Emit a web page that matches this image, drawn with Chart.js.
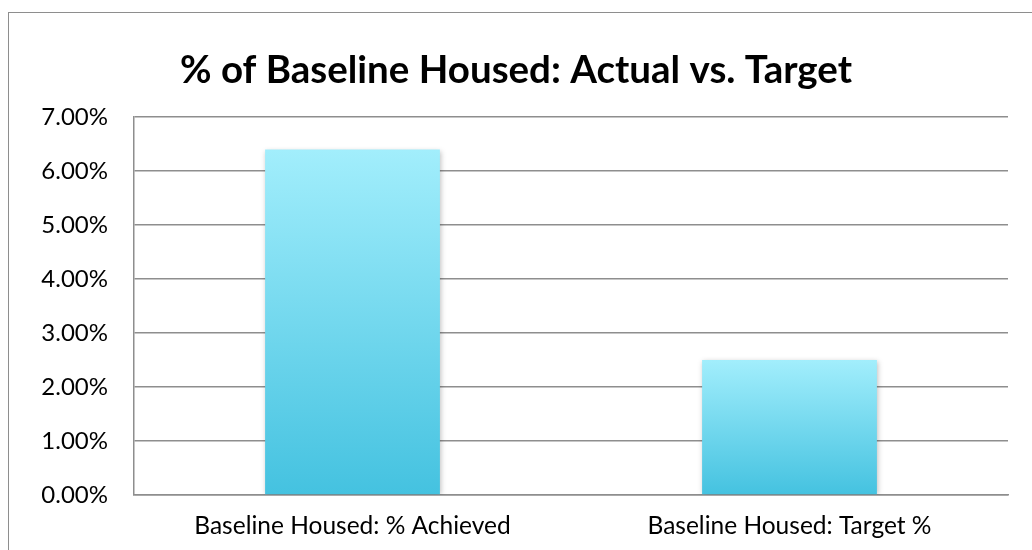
<!DOCTYPE html>
<html>
<head>
<meta charset="utf-8">
<script src="https://cdn.jsdelivr.net/npm/chart.js@4.4.1/dist/chart.umd.min.js"></script>
<style>
  body { margin: 0; background: #fff; }
  #wrap { position: relative; width: 1032px; height: 550px; overflow: hidden; }
  #frame { position: absolute; left: 8px; top: 12px; width: 1100px; height: 600px; border: 1.5px solid #8e8e8e; }
  #box { position: absolute; left: 0; top: 0; width: 1032px; height: 550px; }
</style>
</head>
<body>
<div id="wrap">
  <div id="frame"></div>
  <div id="box"><canvas id="barChart"></canvas></div>
</div>
<script>
const labels = ["Baseline Housed: % Achieved", "Baseline Housed: Target %"];
const values = [6.40, 2.50];
const yTicks = [0, 1, 2, 3, 4, 5, 6, 7];

const fontFamily = "Lato, 'Open Sans', sans-serif";

// ombre légère derrière les barres
const shadowPlugin = {
  id: "shadow",
  beforeDatasetsDraw(chart) {
    const ctx = chart.ctx;
    ctx.save();
    ctx.shadowColor = "rgba(0,0,0,0.25)";
    ctx.shadowBlur = 5;
    ctx.shadowOffsetX = 1;
    ctx.shadowOffsetY = 1;
  },
  afterDatasetsDraw(chart) {
    chart.ctx.restore();
  },
};

const barChart = document.querySelector("#barChart");
const myChart = new Chart(barChart, {
  type: "bar",
  data: {
    labels: labels,
    datasets: [
      {
        data: values,
        backgroundColor: (c) => {
          const area = c.chart.chartArea;
          if (!area) return "#7fdcf0";
          const y0 = c.chart.scales.y.getPixelForValue(0);
          const y1 = c.chart.scales.y.getPixelForValue(c.raw);
          const g = c.chart.ctx.createLinearGradient(0, y1, 0, y0);
          g.addColorStop(0, "#a2eefc");
          g.addColorStop(1, "#44c2e0");
          return g;
        },
        barPercentage: 0.4,
        categoryPercentage: 1,
      },
    ],
  },
  options: {
    responsive: true,
    maintainAspectRatio: false,
    animation: false,
    layout: {
      padding: { left: 24, right: 24, top: 47, bottom: 0 },
    },
    plugins: {
      legend: { display: false },
      tooltip: { enabled: false },
      title: {
        display: true,
        text: "% of Baseline Housed: Actual vs. Target",
        color: "#000",
        font: { family: fontFamily, size: 38.5, weight: "bold", lineHeight: 1.2 },
        padding: { top: 0, bottom: 24 },
      },
    },
    scales: {
      x: {
        grid: { display: false, drawTicks: false },
        border: { color: "#8e8e8e", width: 1.5 },
        afterFit: (axis) => { axis.height = 55; },
        ticks: {
          color: "#000",
          font: { family: fontFamily, size: 24.5 },
          padding: 16,
        },
      },
      y: {
        min: 0,
        max: 7,
        afterBuildTicks: (axis) => {
          axis.ticks = yTicks.map((v) => ({ value: v }));
        },
        afterFit: (axis) => { axis.width = 110; },
        grid: { color: "#8e8e8e", lineWidth: 1.5, drawTicks: false },
        border: { color: "#8e8e8e", width: 1.5 },
        ticks: {
          color: "#000",
          font: { family: fontFamily, size: 24 },
          padding: 26,
          callback: (v) => v.toFixed(2) + "%",
        },
      },
    },
  },
  plugins: [shadowPlugin],
});
</script>
</body>
</html>
